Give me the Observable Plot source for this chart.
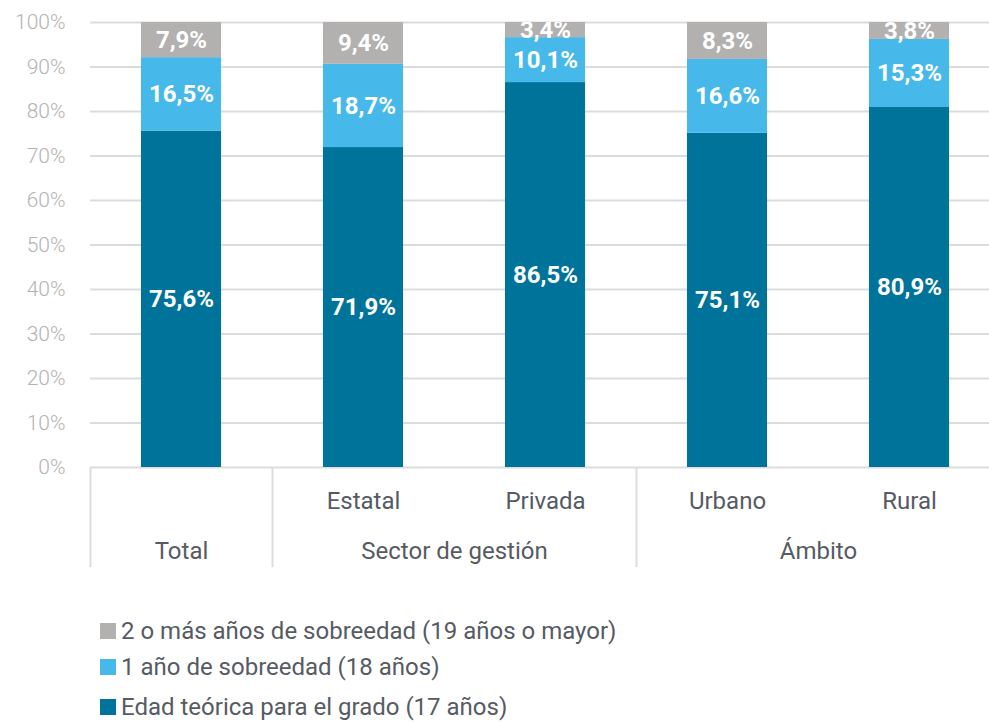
<!DOCTYPE html>
<html><head><meta charset="utf-8">
<script src="https://cdn.jsdelivr.net/npm/d3@7"></script>
<script src="https://cdn.jsdelivr.net/npm/@observablehq/plot@0.6"></script>
<style>
body{margin:0;background:#fff;font-family:Roboto,sans-serif;overflow:hidden;}
#chart svg{overflow:visible;}
#legend{position:absolute;left:100px;top:580px;}
.row{display:flex;align-items:center;height:28px;font-size:24px;line-height:28px;color:#565b63;position:absolute;white-space:nowrap;}
.sw{width:16px;height:16px;margin-right:5px;flex:none;}
</style></head><body><div id="chart"></div><div id="legend"></div>
<script>
const categories = ["Total","Estatal","Privada","Urbano","Rural"];
const categoryLabels = ["","Estatal","Privada","Urbano","Rural"];
const groups = ["Total","Sector de gestión","Ámbito"];
const groupMembers = [[0],[1,2],[3,4]];
const seriesNames = ["Edad teórica para el grado (17 años)","1 año de sobreedad (18 años)","2 o más años de sobreedad (19 años o mayor)"];
const edadTeorica = [75.6,71.9,86.5,75.1,80.9];
const unAnio = [16.5,18.7,10.1,16.6,15.3];
const dosOMas = [7.9,9.4,3.4,8.3,3.8];
const seriesValues = [edadTeorica, unAnio, dosOMas];
const yTicks = [0,10,20,30,40,50,60,70,80,90,100];
const colors = ["#00739a","#46b9ea","#b2b1b0"];
const legendOrder = [2,1,0];

const data = [];
categories.forEach((c,i) => seriesNames.forEach((s,j) => data.push({cat:c, idx:i, series:s, value:seriesValues[j][i]})));
const cats = categories.map((c,i)=>({idx:i, label:categoryLabels[i]}));
const grps = groups.map((g,k)=>({label:g, pos:d3.mean(groupMembers[k])+0.5, start:groupMembers[k][0]}));

const half = 0.22;
const fmt = v => v.toFixed(1).replace(".", ",") + "%";

const chart = Plot.plot({
  width: 989, height: 580,
  marginTop: 22, marginBottom: 113, marginLeft: 90, marginRight: 0,
  style: {fontFamily: "Roboto, sans-serif", background: "transparent"},
  x: {domain: [0,5], range: [90,1000], axis: null},
  y: {domain: [0,100], axis: null},
  color: {domain: seriesNames, range: colors},
  marks: [
    Plot.gridY(yTicks, {stroke: "#dcdcdc", strokeOpacity: 1, strokeWidth: 2}),
    Plot.axisY(yTicks, {tickSize: 0, tickPadding: 25, tickFormat: d => d + "%", fontSize: 21, fill: "#b3b3b3", fontWeight: 300, label: null}),
    Plot.rectY(data, Plot.stackY({x1: d => d.idx + 0.5 - half, x2: d => d.idx + 0.5 + half, y: "value", fill: "series", order: null})),
    Plot.text(data, Plot.stackY({x: d => d.idx + 0.5, y: "value", text: d => fmt(d.value), order: null, fill: "white", fontSize: 24, fontWeight: "bold", clip: true, letterSpacing: -0.8})),
    Plot.ruleX(grps, {x: "start", y1: 0, y2: -22.5, stroke: "#dcdcdc", strokeWidth: 2}),
    Plot.text(cats, {x: d => d.idx + 0.5, text: "label", frameAnchor: "bottom", dy: 41, fontSize: 24, fill: "#565b63"}),
    Plot.text(grps, {x: "pos", text: "label", frameAnchor: "bottom", dy: 91, fontSize: 24, fill: "#565b63"})
  ]
});
document.getElementById("chart").appendChild(chart);

const legend = document.getElementById("legend");
const centers = [51, 87, 127];
legendOrder.forEach((j,k) => {
  const row = document.createElement("div");
  row.className = "row";
  row.style.top = (centers[k] - 14) + "px";
  const sw = document.createElement("div");
  sw.className = "sw"; sw.style.background = colors[j];
  const t = document.createElement("span");
  t.textContent = seriesNames[j];
  row.appendChild(sw); row.appendChild(t);
  legend.appendChild(row);
});
</script></body></html>
